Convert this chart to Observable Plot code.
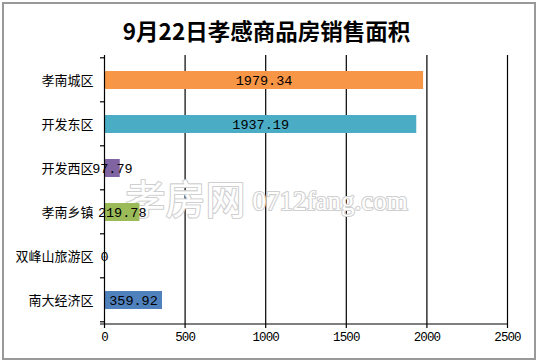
<!DOCTYPE html>
<html><head><meta charset="utf-8">
<script src="https://cdn.jsdelivr.net/npm/d3@7"></script>
<script src="https://cdn.jsdelivr.net/npm/@observablehq/plot@0.6"></script>
<style>
body{margin:0;background:#fff;}
#wrap{position:relative;width:537px;height:362px;overflow:hidden;background:#fff;}
#border{position:absolute;left:2px;top:2px;width:530px;height:354px;border:2px solid #999;pointer-events:none;}
#title{position:absolute;left:0;top:14px;width:533px;text-align:center;font:bold 22.5px "Noto Sans CJK SC";color:#000;z-index:2;}
#chart{position:absolute;left:0;top:0;}
g[aria-label="bar-label"] text{letter-spacing:-1px;}
g[aria-label="x-axis tick label"] text{letter-spacing:-0.9px;}
</style></head><body>
<div id="wrap"><div id="chart"></div><div id="title">9月22日孝感商品房销售面积</div><div id="border"></div></div>
<script>
const categories = ["孝南城区","开发东区","开发西区","孝南乡镇","双峰山旅游区","南大经济区"];
const values = [1979.34, 1937.19, 97.79, 219.78, 0, 359.92];
const colors = ["#F79646","#4BACC6","#8064A2","#9BBB59","#4F81BD","#4F81BD"];
const xTicks = [0, 500, 1000, 1500, 2000, 2500];
const data = categories.map((c, i) => ({category: c, value: values[i], color: colors[i]}));

function yBoundaryTicks(index, scales, vals, dims) {
  const y = scales.y;
  const step = y(categories[1]) - y(categories[0]);
  const left = dims.marginLeft;
  const g = d3.create("svg:g").attr("stroke", "#000").attr("stroke-width", 1.2);
  const first = y(categories[0]) - step * 0.3;
  for (let i = 0; i <= categories.length; i++) {
    const yy = first + i * step;
    g.append("line").attr("x1", left - 4).attr("x2", left).attr("y1", yy).attr("y2", yy);
  }
  const bottom = dims.height - dims.marginBottom;
  g.append("line").attr("x1", left - 4).attr("x2", dims.width - dims.marginRight).attr("y1", bottom).attr("y2", bottom);
  return g.node();
}

const chart = Plot.plot({
  width: 537,
  height: 362,
  marginLeft: 104,
  marginRight: 30,
  marginTop: 55,
  marginBottom: 38,
  style: {background: "transparent", overflow: "visible"},
  x: {domain: [0, 2500], label: null},
  y: {domain: categories, paddingInner: 0.6, paddingOuter: 0.3, label: null},
  color: {type: "identity"},
  marks: [
    Plot.ruleX(xTicks.filter(v => v > 0), {stroke: "#000", strokeWidth: 1.2}),
    Plot.text(["孝房网"], {frameAnchor: "top-left", dx: 21, dy: 146, textAnchor: "start", lineAnchor: "middle",
      fontSize: 40, fontFamily: "Noto Sans CJK SC", fill: "#fff", stroke: "#cfcfcf", strokeWidth: 2.2}),
    Plot.text(["0712fang.com"], {frameAnchor: "top-left", dx: 148, dy: 146, textAnchor: "start", lineAnchor: "middle",
      fontSize: 27, fontFamily: "Liberation Serif", fill: "#fff", stroke: "#cfcfcf", strokeWidth: 2.2}),
    Plot.barX(data.filter(d => d.value > 0), {x: "value", y: "category", fill: "color"}),
    Plot.text(data, {x: d => d.value / 2, y: "category", text: d => d.value === 0 ? "0" : d.value.toFixed(2),
      fontFamily: "Liberation Mono", fontSize: 13.5, fill: "#000", textAnchor: "middle", ariaLabel: "bar-label"}),
    Plot.ruleX([0], {stroke: "#000", strokeWidth: 1.2}),
    yBoundaryTicks,
    Plot.axisX({ticks: xTicks, tickSize: 4, tickPadding: 4, tickFormat: d3.format("d"),
      fontFamily: "Liberation Mono", fontSize: 12.5, stroke: "#000", strokeWidth: 1.2, color: "#000"}),
    Plot.axisY({tickSize: 0, tickPadding: 11, fontFamily: "Noto Sans CJK SC", fontSize: 13, color: "#000"})
  ]
});
document.getElementById("chart").appendChild(chart);
</script>
</body></html>
